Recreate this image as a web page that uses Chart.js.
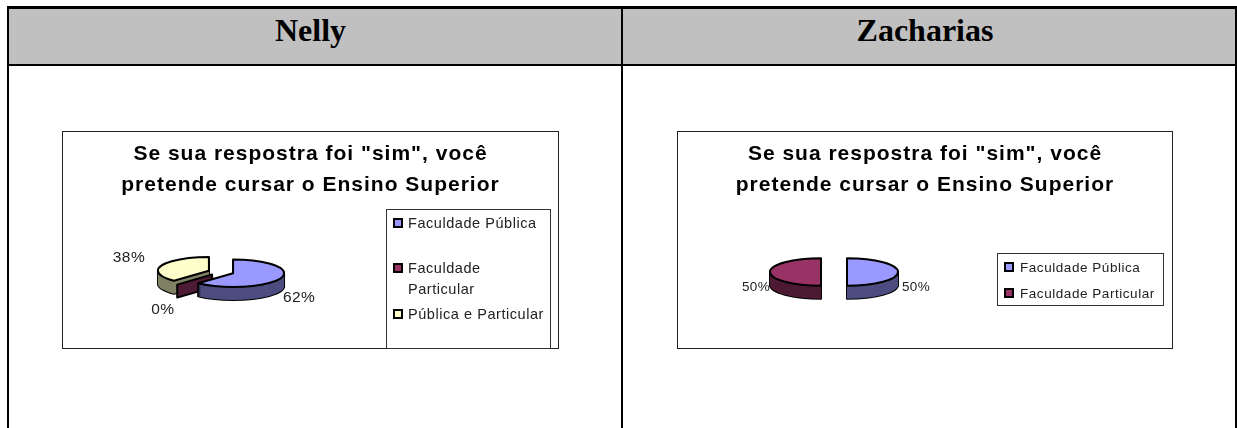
<!DOCTYPE html>
<html lang="pt">
<head>
    <meta charset="UTF-8">
    <title>Nelly / Zacharias</title>
    <script src="https://cdn.jsdelivr.net/npm/chart.js"></script>
    <style>
        html, body { margin: 0; padding: 0; background: #fff; overflow: hidden; }
        body { width: 1237px; height: 428px; position: relative; font-family: "Liberation Sans", Arial, sans-serif; }

        .head {
            position: absolute; top: 9px; height: 55px; background: #c0c0c0;
            font: bold 32px "Liberation Serif", "Times New Roman", serif;
            text-align: center; line-height: 42px; color: #000;
        }
        .rule { position: absolute; background: #000; }

        .box { position: absolute; top: 131px; height: 216px; border: 1px solid #222; background: #fff; }
        .box canvas { position: absolute; left: 0; top: 0; }

        .legend { position: absolute; border: 1px solid #333; background: #fff; color: #222; }
        .legend div { position: absolute; white-space: pre-line; }
        .legend i { position: absolute; width: 6px; height: 6px; border: 2px solid #000; }
    </style>
</head>
<body>
    <div class="head" style="left:9px;width:612px;text-indent:-9px">Nelly</div>
    <div class="head" style="left:623px;width:612px;text-indent:-8px">Zacharias</div>
    <div class="rule" style="left:7px;top:6px;width:1230px;height:3px"></div>
    <div class="rule" style="left:7px;top:64px;width:1230px;height:2px"></div>
    <div class="rule" style="left:7px;top:6px;width:2px;height:422px"></div>
    <div class="rule" style="left:621px;top:6px;width:2px;height:422px"></div>
    <div class="rule" style="left:1235px;top:6px;width:2px;height:422px"></div>

    <div class="box" style="left:62px;width:495px">
        <canvas id="nellyChart" width="495" height="216"></canvas>
    </div>
    <div class="box" style="left:677px;width:494px">
        <canvas id="zachariasChart" width="494" height="216"></canvas>
    </div>
    <div class="legend" id="nellyLegend" style="left:386px;top:209px;width:163px;height:138px;font-size:14.5px;letter-spacing:.55px"></div>
    <div class="legend" id="zachariasLegend" style="left:997px;top:253px;width:165px;height:51px;font-size:13.5px;letter-spacing:.55px"></div>

    <script>
        const chartTitle = ['Se sua respostra foi "sim", você', 'pretende cursar o Ensino Superior'];

        const nellyLabels = ['Faculdade Pública', 'Faculdade Particular', 'Pública e Particular'];
        const nellyValues = [62, 0, 38];

        const zachariasLabels = ['Faculdade Pública', 'Faculdade Particular'];
        const zachariasValues = [50, 50];

        const topColors = ['#9999ff', '#993366', '#ffffcc'];
        const sideColors = ['#4d4d80', '#4d1a33', '#808066'];

        const SQUASH = 0.27;  // flattening of the pie
        const DEPTH = 13;     // height of the pie wall

        // Draws the slices as a tilted 3D pie, using the angles Chart.js worked out
        const pie3d = {
            id: 'pie3d',
            afterLayout(chart, args, opts) {
                // leave the right side free for the legend, the title stays centred on the canvas
                chart.chartArea.right -= opts.reserveRight;
                chart.chartArea.width -= opts.reserveRight;
            },
            beforeDraw(chart) {
                chart.ctx.letterSpacing = '1px';
            },
            beforeDatasetDraw(chart, args, opts) {
                const ctx = chart.ctx;
                const arcs = chart.getDatasetMeta(0).data;

                function center(arc, dy) {
                    const mid = (arc.startAngle + arc.endAngle) / 2;
                    return {
                        x: arc.x + Math.cos(mid) * arc.options.offset,
                        y: arc.y + Math.sin(mid) * arc.options.offset * SQUASH + dy
                    };
                }

                function slicePath(arc, dy) {
                    const c = center(arc, dy);
                    ctx.beginPath();
                    ctx.moveTo(c.x, c.y);
                    ctx.ellipse(c.x, c.y, arc.outerRadius, arc.outerRadius * SQUASH, 0, arc.startAngle, arc.endAngle);
                    ctx.closePath();
                }

                // a slice with no angle still shows its cut face
                function emptySliceWall(arc) {
                    const c = center(arc, 0);
                    const ex = c.x + Math.cos(arc.startAngle) * arc.outerRadius;
                    const ey = c.y + Math.sin(arc.startAngle) * arc.outerRadius * SQUASH;
                    ctx.beginPath();
                    ctx.moveTo(c.x, c.y);
                    ctx.lineTo(ex, ey);
                    ctx.lineTo(ex, ey + DEPTH);
                    ctx.lineTo(c.x, c.y + DEPTH);
                    ctx.closePath();
                }

                ctx.save();
                ctx.lineJoin = 'round';
                ctx.lineWidth = 2;
                ctx.strokeStyle = '#000';
                // back slices first so the front ones sit on top
                opts.paintOrder.forEach(i => {
                    const arc = arcs[i];
                    if (arc.endAngle - arc.startAngle < 0.001) {
                        emptySliceWall(arc);
                        ctx.fillStyle = sideColors[i];
                        ctx.fill();
                        ctx.stroke();
                        return;
                    }
                    for (let d = DEPTH; d >= 1; d--) {
                        slicePath(arc, d);
                        ctx.stroke();
                    }
                    ctx.fillStyle = sideColors[i];
                    for (let d = DEPTH; d >= 1; d--) {
                        slicePath(arc, d);
                        ctx.fill();
                    }
                    slicePath(arc, 0);
                    ctx.fillStyle = topColors[i];
                    ctx.fill();
                    ctx.stroke();
                });
                ctx.restore();
                return false;
            },
            afterDatasetsDraw(chart, args, opts) {
                const ctx = chart.ctx;
                const arcs = chart.getDatasetMeta(0).data;
                const values = chart.data.datasets[0].data;
                ctx.save();
                ctx.letterSpacing = '0.4px';
                ctx.font = opts.labelFont;
                ctx.fillStyle = '#222';
                ctx.textAlign = 'center';
                ctx.textBaseline = 'middle';
                arcs.forEach((arc, i) => {
                    const mid = (arc.startAngle + arc.endAngle) / 2;
                    const dist = arc.options.offset + arc.outerRadius + opts.labelGap[i];
                    const x = arc.x + Math.cos(mid) * dist;
                    const y = arc.y + Math.sin(mid) * dist * SQUASH + opts.labelDrop[i];
                    ctx.fillText(values[i] + '%', x, y);
                });
                ctx.restore();
                ctx.letterSpacing = '0px';
            }
        };

        function makeChart(canvasId, labels, values, paintOrder, reserveRight, labelGap, labelDrop, labelFont) {
            return new Chart(document.getElementById(canvasId), {
                type: 'pie',
                data: {
                    labels: labels,
                    datasets: [{ data: values, offset: 13, radius: 51, backgroundColor: topColors }]
                },
                plugins: [pie3d],
                options: {
                    responsive: false,
                    animation: false,
                    layout: { padding: { bottom: 17 } },
                    plugins: {
                        legend: { display: false },
                        tooltip: { enabled: false },
                        title: {
                            display: true,
                            text: chartTitle,
                            color: '#000',
                            font: { family: '"Liberation Sans", Arial, sans-serif', size: 21, weight: 'bold', lineHeight: 1.5 },
                            padding: { top: 6, bottom: 12 }
                        },
                        pie3d: { paintOrder, reserveRight, labelGap, labelDrop, labelFont }
                    }
                }
            });
        }

        // Legend sits in a bordered box and one entry wraps, so it is built here
        function fillLegend(id, labels, rows, swatchX, textX) {
            const box = document.getElementById(id);
            labels.forEach((label, i) => {
                const swatch = document.createElement('i');
                swatch.style.cssText = `left:${swatchX}px;top:${rows[i].top + 3}px;background:${topColors[i]}`;
                box.appendChild(swatch);
                const text = document.createElement('div');
                text.style.cssText = `left:${textX}px;top:${rows[i].top - 2}px;width:150px;line-height:21px`;
                text.textContent = rows[i].text || label;
                box.appendChild(text);
            });
        }

        makeChart('nellyChart', nellyLabels, nellyValues, [2, 1, 0], 179, [20, 21, 35], [17, 21, -4], '15.5px "Liberation Sans", Arial, sans-serif');
        makeChart('zachariasChart', zachariasLabels, zachariasValues, [1, 0], 182, [18, 14], [15, 15], '13.5px "Liberation Sans", Arial, sans-serif');

        fillLegend('nellyLegend', nellyLabels, [{ top: 5 }, { top: 50, text: 'Faculdade\nParticular' }, { top: 96 }], 6, 21);
        fillLegend('zachariasLegend', zachariasLabels, [{ top: 5 }, { top: 31 }], 6, 22);
    </script>
</body>
</html>
